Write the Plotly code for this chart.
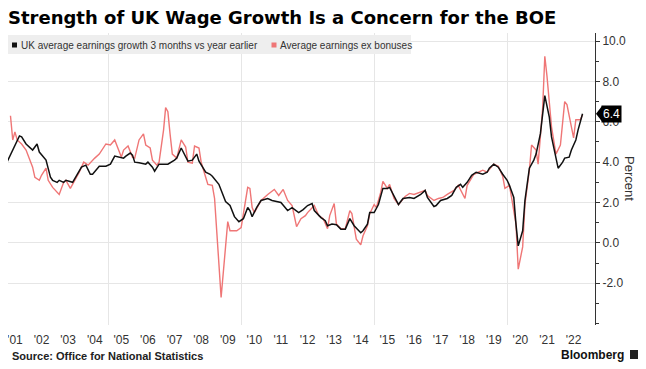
import plotly.graph_objects as go

# ---------------- data ----------------
black_dates = ["2001-03","2001-06","2001-08","2001-09","2001-10","2001-12","2002-03","2002-05","2002-06","2002-08",
"2002-09","2002-11","2002-12","2003-02","2003-03","2003-05","2003-06","2003-09","2003-11","2004-01",
"2004-03","2004-05","2004-06","2004-09","2004-12","2005-02","2005-04","2005-06","2005-08","2005-09",
"2005-11","2005-12","2006-01","2006-03","2006-06","2006-07","2006-09","2006-10","2006-12","2007-03",
"2007-04","2007-07","2007-08","2007-10","2007-12","2008-01","2008-03","2008-05","2008-06","2008-09",
"2008-11","2008-12","2009-03","2009-06","2009-08","2009-10","2009-12","2010-02","2010-04","2010-05",
"2010-06","2010-08","2010-10","2011-01","2011-03","2011-07","2011-10","2011-12","2012-03","2012-05",
"2012-07","2012-09","2012-10","2013-01","2013-03","2013-04","2013-06","2013-08","2013-10","2013-12",
"2014-02","2014-04","2014-07","2014-08","2014-10","2014-11","2015-01","2015-03","2015-05","2015-07",
"2015-08","2015-11","2015-12","2016-02","2016-05","2016-07","2016-10","2016-12","2017-01","2017-04",
"2017-05","2017-07","2017-10","2017-12","2018-02","2018-04","2018-05","2018-07","2018-09","2018-11",
"2019-02","2019-04","2019-05","2019-07","2019-09","2019-11","2020-01","2020-02","2020-04","2020-05",
"2020-06","2020-08","2020-09","2020-11","2021-01","2021-02","2021-04","2021-06","2021-08","2021-09",
"2021-11","2021-12","2022-02","2022-03","2022-05","2022-06","2022-08","2022-09","2022-11"]
black_values = [3.9,4.6,5.0,5.3,5.25,4.9,4.6,4.9,4.5,4.2,
4.1,3.25,3.1,3.0,3.1,3.0,3.1,3.0,3.4,3.75,
3.85,3.4,3.4,3.8,3.8,3.9,4.3,4.25,4.2,4.3,
4.45,4.35,4.0,3.97,3.9,4.0,3.75,3.55,3.9,3.9,
3.9,4.1,4.2,4.7,4.3,4.05,4.1,4.4,4.05,3.5,
3.4,3.3,2.9,2.05,1.85,1.3,1.05,1.2,1.75,1.6,
1.3,1.75,2.1,2.2,2.1,2.0,1.6,1.75,1.5,1.65,
1.85,1.95,1.6,1.25,1.1,0.85,0.93,0.9,0.68,0.68,
1.2,0.85,0.5,0.6,0.93,1.5,1.5,1.9,2.7,2.7,
2.75,2.1,1.9,2.2,2.25,2.2,2.4,2.6,2.25,1.8,
1.85,2.1,2.2,2.35,2.75,2.9,2.75,3.0,3.35,3.5,
3.4,3.5,3.7,3.9,3.75,3.4,3.1,2.85,2.25,0.93,
-0.15,0.6,2.1,3.7,4.1,4.4,5.4,7.3,6.25,5.25,
4.1,3.7,4.0,4.2,4.25,4.6,5.1,5.6,6.4]

red_dates = ["2001-05","2001-06","2001-07","2001-08","2001-10","2001-12","2002-03","2002-04","2002-06","2002-07",
"2002-09","2002-10","2002-12","2003-03","2003-05","2003-06","2003-08","2003-09","2003-12","2004-02",
"2004-04","2004-07","2004-09","2004-12","2005-02","2005-04","2005-05","2005-07","2005-08","2005-10",
"2005-12","2006-01","2006-03","2006-05","2006-06","2006-08","2006-09","2006-11","2006-12","2007-02",
"2007-03","2007-04","2007-05","2007-06","2007-08","2007-10","2007-12","2008-01","2008-03","2008-04",
"2008-06","2008-07","2008-09","2008-10","2008-12","2009-01","2009-04","2009-07","2009-08","2009-11",
"2010-01","2010-03","2010-04","2010-05","2010-06","2010-07","2010-10","2011-01","2011-04","2011-06",
"2011-08","2011-10","2011-12","2012-02","2012-04","2012-06","2012-07","2012-10","2012-12","2013-02",
"2013-04","2013-05","2013-07","2013-08","2013-10","2013-12","2014-02","2014-03","2014-05","2014-07",
"2014-08","2014-10","2014-11","2015-01","2015-02","2015-04","2015-05","2015-07","2015-08","2015-10",
"2015-12","2016-03","2016-05","2016-07","2016-10","2016-12","2017-01","2017-04","2017-06","2017-08",
"2017-10","2018-01","2018-03","2018-04","2018-06","2018-07","2018-10","2018-12","2019-02","2019-04",
"2019-07","2019-09","2019-11","2019-12","2020-02","2020-03","2020-05","2020-06","2020-08","2020-09",
"2020-11","2020-12","2021-02","2021-03","2021-05","2021-06","2021-07","2021-09","2021-11","2022-01",
"2022-03","2022-04","2022-06","2022-07","2022-08","2022-10","2022-11"]
red_values = [6.3,5.1,5.5,5.1,4.9,4.6,3.75,3.25,3.1,3.35,
3.7,3.1,2.75,2.4,3.0,3.1,2.7,2.9,3.5,4.0,
3.85,4.2,4.4,4.9,4.85,5.1,4.85,4.25,4.6,4.8,
4.25,4.2,5.1,5.4,4.85,4.7,4.1,3.85,4.0,5.6,
6.7,6.5,5.4,4.4,4.2,5.1,4.75,4.0,3.95,4.8,
4.7,4.0,3.25,2.9,2.85,2.2,-2.7,1.05,0.6,0.6,
0.76,2.0,2.75,2.7,1.75,1.5,2.1,2.4,2.65,2.35,
2.65,2.1,1.85,0.8,1.2,1.35,1.5,1.85,1.35,1.2,
0.7,1.35,1.95,0.93,0.7,0.7,1.6,1.45,0.18,-0.1,
0.35,0.85,1.45,1.9,1.75,2.5,3.05,2.7,2.9,2.2,
1.9,2.3,2.45,2.4,2.5,2.6,2.35,2.1,2.2,2.25,
2.4,2.6,2.85,2.6,2.2,2.85,3.4,3.5,3.6,3.5,
3.9,3.8,3.3,2.7,2.85,2.25,0.93,-1.3,-0.2,1.9,
3.6,4.85,4.6,3.9,6.6,9.25,8.25,5.75,4.4,4.85,
7.0,6.85,5.7,5.2,6.1,6.1,6.35]

years = list(range(2001, 2023))
year_labels = ["'%02d" % (y % 100) for y in years]
y_ticks = [-2, 0, 2, 4, 6, 8, 10]
latest_value = 6.4

series_black_name = "UK average earnings growth 3 months vs year earlier"
series_red_name = "Average earnings ex bonuses"

# ---------------- layout geometry (page pixels; the page body has an 8px margin) ----------------
OFF = 8
W, H = 646 - OFF, 369 - OFF
L, R, T, B = 8, 595, 33, 325          # plot area in page pixels

def px(x):
    return (x - L) / (R - L)

def py(y):
    return (B - y) / (B - T)

BLACK = "#111111"
RED = "#ef7676"
FONT = "Liberation Sans, Arial, sans-serif"

fig = go.Figure()
fig.add_trace(go.Scatter(x=red_dates, y=red_values, mode="lines",
                         line=dict(color=RED, width=1.4), name=series_red_name,
                         showlegend=False, hoverinfo="skip"))
fig.add_trace(go.Scatter(x=black_dates, y=black_values, mode="lines",
                         line=dict(color=BLACK, width=1.5), name=series_black_name,
                         showlegend=False, hoverinfo="skip"))

fig.update_layout(
    width=W, height=H,
    margin=dict(l=L - OFF, r=646 - R, t=T - OFF, b=369 - B, pad=0),
    paper_bgcolor="white", plot_bgcolor="white",
    font=dict(family=FONT, color="#333333", size=12),
    showlegend=False,
    title=dict(text="<b>Strength of UK Wage Growth Is a Concern for the BOE</b>",
               x=0, xref="container", xanchor="left",
               y=1 - (18 - OFF) / H, yref="container", yanchor="middle",
               font=dict(family="DejaVu Sans, sans-serif", size=18, color="#000000")),
    xaxis=dict(type="date", range=["2001-03-28", "2023-04-21"],
               tickmode="array", tickvals=["%d-07-01" % y for y in years],
               ticktext=year_labels, showgrid=False, zeroline=False,
               showline=False, ticks="", ticklabelstandoff=6,
               ticklabeloverflow="allow",
               tickfont=dict(size=12, color="#333333"),
               minor=dict(tickmode="array",
                          tickvals=["%d-01-01" % y for y in (2005, 2010, 2015, 2020)],
                          showgrid=True, gridcolor="#e6e6e6", gridwidth=1, ticks="")),
    yaxis=dict(side="right", range=[-4.07, 10.40], tickmode="array",
               tickvals=y_ticks, ticktext=["%.1f" % v for v in y_ticks],
               showgrid=True, gridcolor="#e6e6e6", gridwidth=1, zeroline=False,
               showline=True, linecolor="#333333", linewidth=1,
               ticks="outside", ticklen=4, tickcolor="#333333",
               minor=dict(dtick=1, ticks="outside", ticklen=3, tickcolor="#333333", showgrid=False),
               tickfont=dict(size=12, color="#333333")),
)

shapes = [
    # legend box
    dict(type="rect", xref="paper", yref="paper", x0=px(8), x1=px(411), y0=py(54), y1=py(35),
         fillcolor="#eeeeee", line=dict(width=0), layer="above"),
    dict(type="rect", xref="paper", yref="paper", x0=px(12), x1=px(17), y0=py(47.5), y1=py(42.5),
         fillcolor=BLACK, line=dict(width=0), layer="above"),
    dict(type="rect", xref="paper", yref="paper", x0=px(271.5), x1=px(276.5), y0=py(47.5), y1=py(42.5),
         fillcolor=RED, line=dict(width=0), layer="above"),
    # pointer of the latest value tag
    dict(type="path", xref="paper", yref="y",
         path="M %f,%f L %f,%f L %f,%f Z" % (px(596), latest_value, px(602), latest_value + 0.38,
                                             px(602), latest_value - 0.38),
         fillcolor="#000000", line=dict(width=0), layer="above"),
    # Bloomberg logo
    dict(type="rect", xref="paper", yref="paper", x0=px(630), x1=px(638), y0=py(359), y1=py(350),
         fillcolor="#222222", line=dict(width=0)),
]
fig.update_layout(shapes=shapes)

ann = [
    dict(text=series_black_name, x=px(19), y=py(45), xref="paper", yref="paper",
         xanchor="left", yanchor="middle", showarrow=False,
         font=dict(size=10, color="#333333")),
    dict(text=series_red_name, x=px(278), y=py(45), xref="paper", yref="paper",
         xanchor="left", yanchor="middle", showarrow=False,
         font=dict(size=10, color="#333333")),
    dict(text="Percent", x=px(630), y=py(178), xref="paper", yref="paper",
         xanchor="center", yanchor="middle", showarrow=False, textangle=90,
         font=dict(size=13, color="#333333")),
    dict(text="%.1f" % latest_value, x=px(601), y=latest_value, xref="paper", yref="y",
         xanchor="left", yanchor="middle", showarrow=False, bgcolor="#000000",
         borderpad=1, font=dict(size=12, color="#ffffff")),
    dict(text="<b>Source: Office for National Statistics</b>", x=px(10), y=py(356),
         xref="paper", yref="paper", xanchor="left", yanchor="middle", showarrow=False,
         font=dict(size=11, color="#222222")),
    dict(text="<b>Bloomberg</b>", x=px(626), y=py(355), xref="paper", yref="paper",
         xanchor="right", yanchor="middle", showarrow=False,
         font=dict(size=12, color="#111111")),
]
fig.update_layout(annotations=ann)

fig.write_html("out.html")
